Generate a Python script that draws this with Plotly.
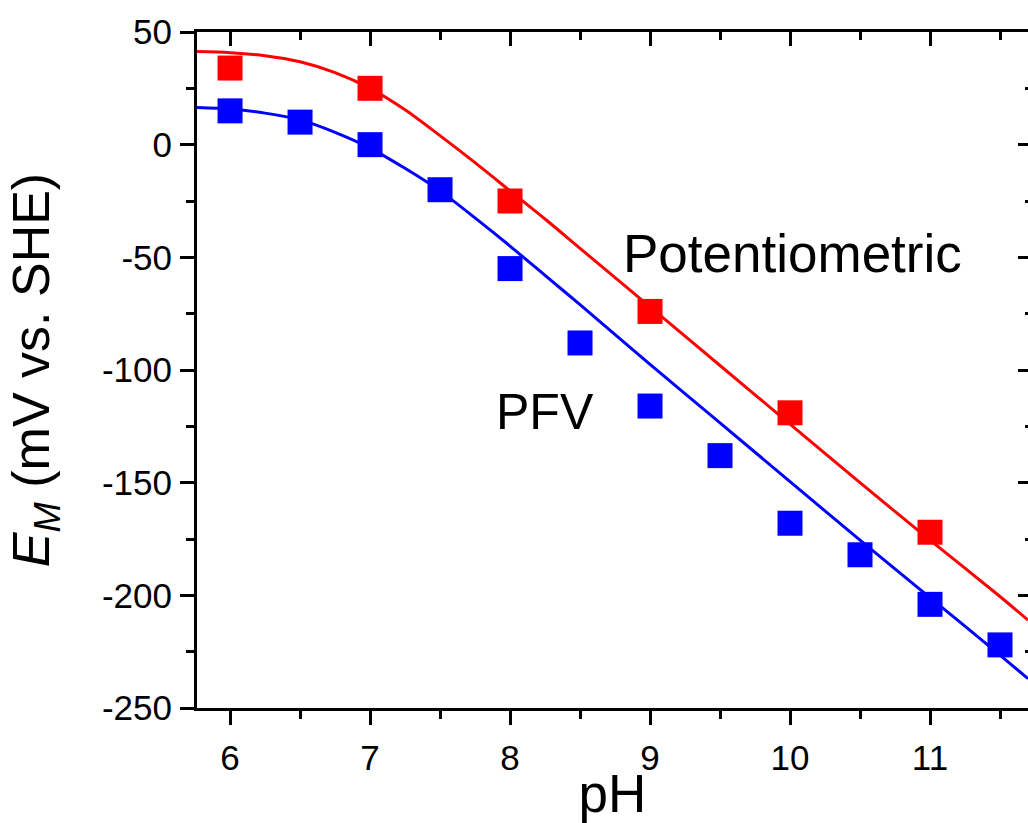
import plotly.graph_objects as go

ph_pfv = [6.0, 6.5, 7.0, 7.5, 8.0, 8.5, 9.0, 9.5, 10.0, 10.5, 11.0, 11.5]
em_pfv = [15, 10, 0, -20, -55, -88, -116, -138, -168, -182, -204, -222]
ph_pot = [6.0, 7.0, 8.0, 9.0, 10.0, 11.0]
em_pot = [34, 25, -25, -74, -119, -172]

# Fitted curves
fit_ph = [5.76, 6.0, 6.25, 6.5, 6.75, 7.0, 7.25, 7.5, 7.75, 8.0, 8.25, 8.5,
          9.0, 9.5, 10.0, 10.5, 11.0, 11.5, 11.7]
fit_pot = [41.3, 40.8, 39.5, 36.8, 32, 25, 15.5, 4, -8, -20.5, -33, -46,
           -72, -98, -124, -150, -175.5, -200.5, -211]
fit_pfv = [16.5, 15.8, 14, 11, 5.5, -1.5, -10.5, -20.5, -32.5, -45, -58, -71,
           -97.5, -123.5, -149.5, -175.5, -201, -226.5, -237]

x_ticks = [6, 7, 8, 9, 10, 11]
y_ticks = [50, 0, -50, -100, -150, -200, -250]

RED = "#FF0000"
BLUE = "#0000FF"
FONT = "Arial, 'Liberation Sans', sans-serif"

fig = go.Figure()
fig.add_trace(go.Scatter(x=fit_ph, y=fit_pot, mode="lines",
                         line=dict(color=RED, width=3, shape="spline", smoothing=0.8), showlegend=False))
fig.add_trace(go.Scatter(x=fit_ph, y=fit_pfv, mode="lines",
                         line=dict(color=BLUE, width=3, shape="spline", smoothing=0.8), showlegend=False))
fig.add_trace(go.Scatter(x=ph_pot, y=em_pot, mode="markers",
                         marker=dict(symbol="square", size=25, color=RED, line=dict(width=0)), showlegend=False))
fig.add_trace(go.Scatter(x=ph_pfv, y=em_pfv, mode="markers",
                         marker=dict(symbol="square", size=25, color=BLUE, line=dict(width=0)), showlegend=False))
# empty trace to activate the mirror axes (top / right)
fig.add_trace(go.Scatter(x=[None], y=[None], xaxis="x2", yaxis="y2", mode="markers",
                         showlegend=False, hoverinfo="skip"))

xr = [5.764, 11.7]
yr = [-250, 50]

fig.update_layout(
    width=1028, height=823,
    margin=dict(l=197, r=0, t=32, b=115),
    paper_bgcolor="white", plot_bgcolor="white",
    font=dict(family=FONT, color="black", size=35),
    xaxis=dict(
        range=xr, tickvals=x_ticks, ticktext=[str(v) for v in x_ticks],
        ticks="outside", ticklen=14, tickwidth=2.5, tickcolor="black",
        minor=dict(dtick=0.5, tick0=6, ticks="outside", ticklen=8, tickwidth=2.5, tickcolor="black"),
        showline=True, linewidth=3, linecolor="black", showgrid=False, zeroline=False,
        tickfont=dict(size=35), ticklabelstandoff=3,
        title=dict(text="pH", font=dict(size=53), standoff=4),
    ),
    yaxis=dict(
        range=yr, tickvals=y_ticks, ticktext=[str(v) for v in y_ticks],
        ticks="outside", ticklen=14, tickwidth=2.5, tickcolor="black",
        minor=dict(dtick=25, tick0=0, ticks="outside", ticklen=8, tickwidth=2.5, tickcolor="black"),
        showline=True, linewidth=3, linecolor="black", showgrid=False, zeroline=False,
        tickfont=dict(size=35), ticklabelstandoff=1,
        title=dict(text="<i>E<sub>M</sub></i> (mV vs. SHE)", font=dict(size=52), standoff=36),
    ),
    xaxis2=dict(
        overlaying="x", side="top", range=xr, tickvals=x_ticks, showticklabels=False,
        ticks="inside", ticklen=14, tickwidth=2.5, tickcolor="black",
        minor=dict(dtick=0.5, tick0=6, ticks="inside", ticklen=8, tickwidth=2.5, tickcolor="black"),
        showline=True, linewidth=3, linecolor="black", showgrid=False, zeroline=False,
    ),
    yaxis2=dict(
        overlaying="y", side="right", range=yr, tickvals=y_ticks, showticklabels=False,
        ticks="inside", ticklen=10, tickwidth=2.5, tickcolor="black",
        minor=dict(dtick=25, tick0=0, ticks="inside", ticklen=3, tickwidth=2.5, tickcolor="black"),
        showline=False, showgrid=False, zeroline=False,
    ),
    annotations=[
        dict(x=10.02, y=-48.5, xref="x", yref="y", text="Potentiometric", showarrow=False,
             font=dict(size=53, family=FONT, color="black"), xanchor="center", yanchor="middle"),
        dict(x=8.25, y=-118.5, xref="x", yref="y", text="PFV", showarrow=False,
             font=dict(size=50, family=FONT, color="black"), xanchor="center", yanchor="middle"),
    ],
)

fig.write_html("out.html")
